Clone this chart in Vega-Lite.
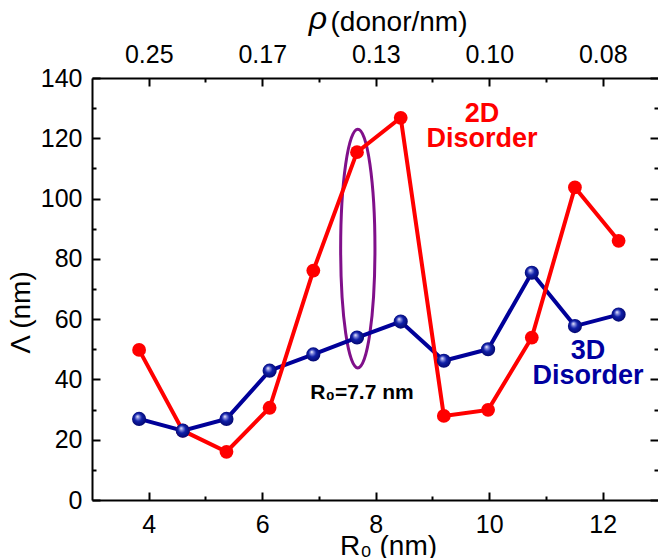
{
  "$schema": "https://vega.github.io/schema/vega-lite/v6.json",
  "width": 566,
  "height": 422,
  "autosize": "none",
  "padding": {"left": 92, "top": 78, "right": 0, "bottom": 58},
  "background": "white",
  "config": {
    "view": {"stroke": null},
    "font": "Liberation Sans",
    "axis": {
      "grid": false,
      "domainColor": "black",
      "domainWidth": 2,
      "tickColor": "black",
      "tickWidth": 2,
      "labelFont": "Liberation Sans",
      "labelFontSize": 25,
      "labelColor": "black",
      "titleFont": "Liberation Sans",
      "titleFontSize": 28,
      "titleFontWeight": "normal",
      "titleColor": "black",
      "labelFlush": false,
      "labelOverlap": false
    }
  },
  "datasets": {
    "pts": [
      {"series": "2D", "r0": 3.83, "lam": 49.8},
      {"series": "2D", "r0": 4.60, "lam": 23.0},
      {"series": "2D", "r0": 5.37, "lam": 16.0},
      {"series": "2D", "r0": 6.13, "lam": 30.6},
      {"series": "2D", "r0": 6.90, "lam": 76.1},
      {"series": "2D", "r0": 7.67, "lam": 115.4},
      {"series": "2D", "r0": 8.44, "lam": 126.8},
      {"series": "2D", "r0": 9.20, "lam": 27.9},
      {"series": "2D", "r0": 9.98, "lam": 29.9},
      {"series": "2D", "r0": 10.75, "lam": 53.9},
      {"series": "2D", "r0": 11.51, "lam": 103.7},
      {"series": "2D", "r0": 12.28, "lam": 86.0},
      {"series": "3D", "r0": 3.83, "lam": 26.9},
      {"series": "3D", "r0": 4.60, "lam": 23.0},
      {"series": "3D", "r0": 5.37, "lam": 26.9},
      {"series": "3D", "r0": 6.13, "lam": 42.9},
      {"series": "3D", "r0": 6.90, "lam": 48.3},
      {"series": "3D", "r0": 7.67, "lam": 53.9},
      {"series": "3D", "r0": 8.44, "lam": 59.2},
      {"series": "3D", "r0": 9.20, "lam": 46.2},
      {"series": "3D", "r0": 9.98, "lam": 50.0},
      {"series": "3D", "r0": 10.75, "lam": 75.4},
      {"series": "3D", "r0": 11.51, "lam": 57.7},
      {"series": "3D", "r0": 12.28, "lam": 61.5}
    ]
  },
  "data": {"name": "pts"},
  "layer": [
    {
      "data": {"values": [{}]},
      "mark": {"type": "point", "shape": "M0,-1A0.1437,1 0 1,1 0,1A0.1437,1 0 1,1 0,-1Z", "size": 56978, "filled": false, "stroke": "#80108a", "strokeWidth": 3, "opacity": 1},
      "encoding": {
        "x": {"datum": 7.684, "type": "quantitative", "scale": {"domain": [3, 12.974], "nice": false, "zero": false}, "axis": null},
        "y": {"datum": 83.4, "type": "quantitative", "scale": {"domain": [0, 140], "nice": false, "zero": false}, "axis": null}
      }
    },
    {
      "transform": [{"filter": "datum.series === '3D'"}],
      "mark": {"type": "line", "color": "#000099", "strokeWidth": 4},
      "encoding": {
        "x": {
          "field": "r0", "type": "quantitative",
          "scale": {"domain": [3, 12.974], "nice": false, "zero": false},
          "axis": {
            "orient": "bottom",
            "values": [4, 5, 6, 7, 8, 9, 10, 11, 12],
            "labelExpr": "datum.value % 2 === 0 ? datum.label : ''",
            "tickSize": {"condition": {"test": "datum.value % 2 === 0", "value": -8}, "value": -4},
            "labelPadding": 20,
            "title": "R₀ (nm)",
            "titleX": 296,
            "titleY": 54,
            "titleAlign": "center",
            "titleBaseline": "alphabetic"
          }
        },
        "y": {
          "field": "lam", "type": "quantitative",
          "scale": {"domain": [0, 140], "nice": false, "zero": false},
          "axis": {
            "orient": "left",
            "values": [0, 10, 20, 30, 40, 50, 60, 70, 80, 90, 100, 110, 120, 130, 140],
            "labelExpr": "datum.value % 20 === 0 ? datum.label : ''",
            "tickSize": {"condition": {"test": "datum.value % 20 === 0", "value": -8}, "value": -4},
            "labelPadding": 18,
            "title": "Λ (nm)",
            "titleX": -71,
            "titleY": 234,
            "titleAngle": -90,
            "titleAlign": "center",
            "titleBaseline": "middle"
          }
        }
      }
    },
    {
      "transform": [{"filter": "datum.series === '2D'"}],
      "mark": {"type": "line", "color": "#ff0000", "strokeWidth": 4},
      "encoding": {
        "x": {
          "field": "r0", "type": "quantitative",
          "axis": {
            "orient": "top",
            "values": [4, 5, 6, 7, 8, 9, 10, 11, 12],
            "labelExpr": "datum.value % 2 === 0 ? format(1 / datum.value, '.2f') : ''",
            "tickSize": {"condition": {"test": "datum.value % 2 === 0", "value": -8}, "value": -4},
            "labelPadding": 19,
            "title": null
          }
        },
        "y": {
          "field": "lam", "type": "quantitative",
          "axis": {
            "orient": "right",
            "values": [0, 10, 20, 30, 40, 50, 60, 70, 80, 90, 100, 110, 120, 130, 140],
            "labels": false,
            "domain": false,
            "tickSize": {"condition": {"test": "datum.value % 20 === 0", "value": -8}, "value": -4},
            "title": null
          }
        }
      }
    },
    {
      "transform": [{"filter": "datum.series === '2D'"}],
      "mark": {"type": "point", "filled": true, "size": 190, "color": "#ff0000", "opacity": 1},
      "encoding": {
        "x": {"field": "r0", "type": "quantitative", "axis": null},
        "y": {"field": "lam", "type": "quantitative", "axis": null}
      }
    },
    {
      "transform": [{"filter": "datum.series === '3D'"}],
      "mark": {
        "type": "point", "shape": "circle", "filled": true, "size": 200, "opacity": 1,
        "fill": {"gradient": "radial", "x1": 0.38, "y1": 0.32, "r1": 0, "x2": 0.5, "y2": 0.5, "r2": 0.6,
          "stops": [
            {"offset": 0, "color": "#ffffff"},
            {"offset": 0.18, "color": "#8a90e0"},
            {"offset": 0.45, "color": "#1020a8"},
            {"offset": 1, "color": "#000060"}
          ]}
      },
      "encoding": {
        "x": {"field": "r0", "type": "quantitative", "axis": null},
        "y": {"field": "lam", "type": "quantitative", "axis": null}
      }
    },
    {
      "data": {"values": [{}]},
      "mark": {"type": "text", "text": "ρ", "font": "Liberation Sans", "fontStyle": "italic", "fontSize": 32, "align": "center", "baseline": "alphabetic", "color": "black"},
      "encoding": {
        "x": {"datum": 6.98, "type": "quantitative", "axis": null},
        "y": {"datum": 156.2, "type": "quantitative", "axis": null}
      }
    },
    {
      "data": {"values": [{}]},
      "mark": {"type": "text", "text": "(donor/nm)", "font": "Liberation Sans", "fontSize": 28, "align": "center", "baseline": "alphabetic", "color": "black"},
      "encoding": {
        "x": {"datum": 8.41, "type": "quantitative", "axis": null},
        "y": {"datum": 155.6, "type": "quantitative", "axis": null}
      }
    },
    {
      "data": {"values": [{}]},
      "mark": {"type": "text", "text": "R₀=7.7 nm", "font": "Liberation Sans", "fontWeight": "bold", "fontSize": 21, "align": "center", "baseline": "alphabetic", "color": "black"},
      "encoding": {
        "x": {"datum": 7.758, "type": "quantitative", "axis": null},
        "y": {"datum": 33.5, "type": "quantitative", "axis": null}
      }
    },
    {
      "data": {"values": [{}]},
      "mark": {"type": "text", "text": ["2D", "Disorder"], "font": "Liberation Sans", "fontWeight": "bold", "fontSize": 27, "lineHeight": 25, "align": "center", "baseline": "alphabetic", "color": "#ff0000"},
      "encoding": {
        "x": {"datum": 9.872, "type": "quantitative", "axis": null},
        "y": {"datum": 125.4, "type": "quantitative", "axis": null}
      }
    },
    {
      "data": {"values": [{}]},
      "mark": {"type": "text", "text": ["3D", "Disorder"], "font": "Liberation Sans", "fontWeight": "bold", "fontSize": 27, "lineHeight": 25, "align": "center", "baseline": "alphabetic", "color": "#0000a0"},
      "encoding": {
        "x": {"datum": 11.74, "type": "quantitative", "axis": null},
        "y": {"datum": 46.8, "type": "quantitative", "axis": null}
      }
    }
  ],
  "resolve": {"axis": {"x": "independent", "y": "independent"}}
}
